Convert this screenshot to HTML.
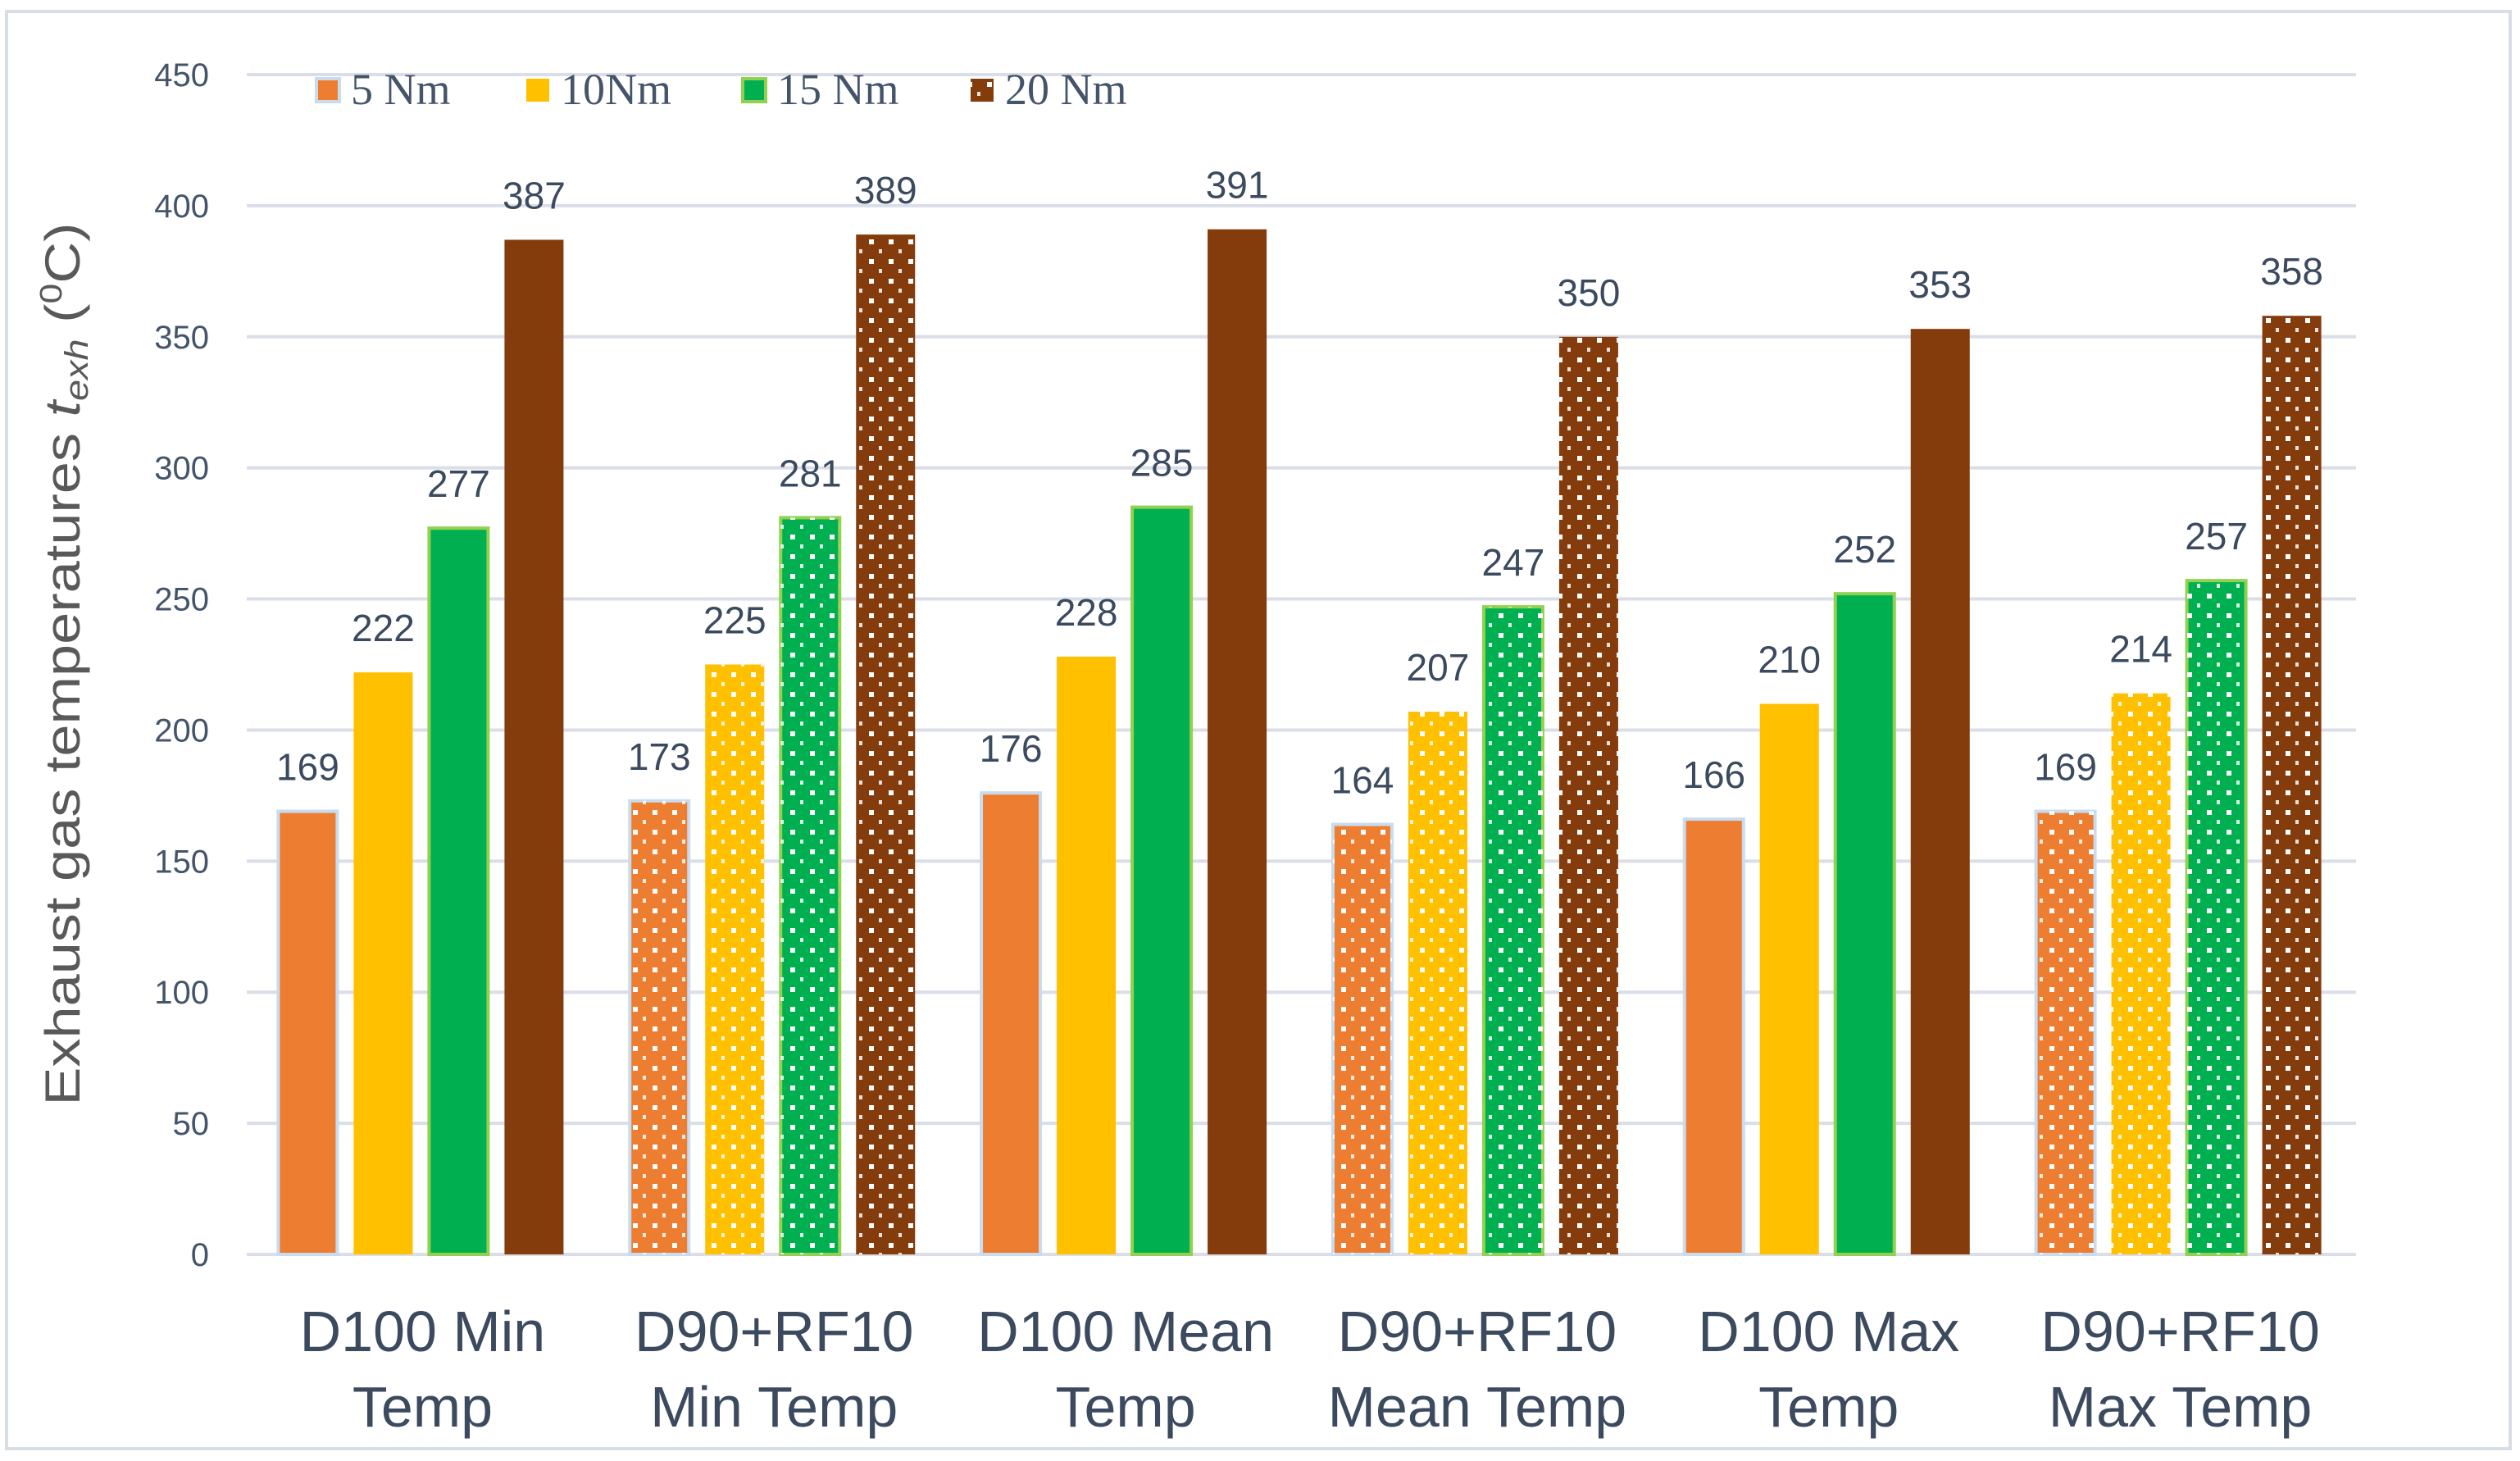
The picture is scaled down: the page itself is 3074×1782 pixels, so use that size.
<!DOCTYPE html>
<html><head><meta charset="utf-8"><style>
html,body{margin:0;padding:0;background:#fff;}
svg{display:block;}
</style></head><body>
<svg id="chart" width="3074" height="1782" viewBox="0 0 3074 1782" xmlns="http://www.w3.org/2000/svg">
<defs>
<pattern id="dots" width="24" height="24" patternUnits="userSpaceOnUse">
<rect x="4" y="4" width="6" height="6" fill="#fff"/>
<rect x="16" y="16" width="4" height="5" fill="#fff" opacity="0.85"/>
</pattern>
</defs>
<rect x="8" y="14" width="3054" height="1753" fill="#fff" stroke="#d9dde4" stroke-width="4"/>
<g id="grid"></g>
<g id="bars"></g>
<g id="labels"></g>
<g id="cats"></g>
<text transform="translate(97,810) rotate(-90)" text-anchor="middle" font-family="Liberation Sans, sans-serif" font-size="60" fill="#595959" textLength="1077" lengthAdjust="spacingAndGlyphs">Exhaust gas temperatures <tspan font-style="italic">t</tspan><tspan font-style="italic" font-size="40" dy="10">exh</tspan><tspan dy="-10"> (</tspan><tspan font-size="38" dy="-22">0</tspan><tspan dy="22">C)</tspan></text>
<g id="legend"></g>
</svg>
<script>
const categories = [["D100 Min","Temp"],["D90+RF10","Min Temp"],["D100 Mean","Temp"],["D90+RF10","Mean Temp"],["D100 Max","Temp"],["D90+RF10","Max Temp"]];
const seriesNames = ["5 Nm","10Nm","15 Nm","20 Nm"];
const s5 = [169,173,176,164,166,169];
const s10 = [222,225,228,207,210,214];
const s15 = [277,281,285,247,252,257];
const s20 = [387,389,391,350,353,358];
const dotted = [false,true,false,true,false,true];
const yTicks = [0,50,100,150,200,250,300,350,400,450];

const NS="http://www.w3.org/2000/svg";
const colors=["#ED7D31","#FFC000","#00B050","#843C0C"];
const strokes=["#c9dcef","none","#92D050","none"];
const series=[s5,s10,s15,s20];
const X0=301,X1=2874,Y0=1530,Y450=91;
const y=v=>Y0-(v/450)*(Y0-Y450);
const gw=(X1-X0)/categories.length;
const xc=i=>X0+gw*(i+0.5);
function mk(tag,attrs,parent){const e=document.createElementNS(NS,tag);for(const k in attrs)e.setAttribute(k,attrs[k]);parent.appendChild(e);return e;}
const grid=document.getElementById('grid'),bars=document.getElementById('bars'),labels=document.getElementById('labels'),cats=document.getElementById('cats'),legend=document.getElementById('legend');
yTicks.forEach(t=>{
  const l=mk('line',{x1:X0,x2:X1,y1:y(t),y2:y(t),stroke:'#d9dee8','stroke-width':4},grid);
  
  
  const tx=mk('text',{x:255,y:y(t)+14,'text-anchor':'end','font-family':'Liberation Sans, sans-serif','font-size':40,fill:'#44546A'},grid);
  tx.textContent=t;
  
  
});
const bw=72,pitch=92;
categories.forEach((c,i)=>{
  series.forEach((s,j)=>{
    const bx=xc(i)-(pitch*1.5)-bw/2+j*pitch-2;
    const top=y(s[i]);
    const r=mk('rect',{x:bx,y:top,width:bw,height:Y0-top,fill:colors[j]},bars);
    
    
    if(strokes[j]!=='none'){r.setAttribute('stroke',strokes[j]);r.setAttribute('stroke-width',4);}
    if(dotted[i]){
      const p=mk('rect',{x:bx,y:top,width:bw,height:Y0-top,fill:'url(#dots)'},bars);
      
      
    }
    const t=mk('text',{x:bx+bw/2,y:top-38,'text-anchor':'middle','font-family':'Liberation Sans, sans-serif','font-size':46,fill:'#3b4a5e'},labels);
    t.textContent=s[i];
    
    
  });
  c.forEach((line,k)=>{
    const t=mk('text',{x:xc(i),y:1648+k*92,'text-anchor':'middle','font-family':'Liberation Sans, sans-serif','font-size':70,fill:'#3b4a5e'},cats);
    t.textContent=line;
    
    
  });
});
const lx=[386,642,906,1184];
seriesNames.forEach((n,j)=>{
  const r=mk('rect',{x:lx[j],y:96,width:28,height:28,fill:colors[j]},legend);
  
  
  if(strokes[j]!=='none'){r.setAttribute('stroke',strokes[j]);r.setAttribute('stroke-width',4);}
  if(j===3){const p=mk('rect',{x:lx[j],y:96,width:28,height:28,fill:'url(#dots)'},legend);}
  const t=mk('text',{x:lx[j]+42,y:127,'font-family':'Liberation Serif, serif','font-size':54,fill:'#44546A'},legend);
  t.textContent=n;
  
  
});
</script>
</body></html>
